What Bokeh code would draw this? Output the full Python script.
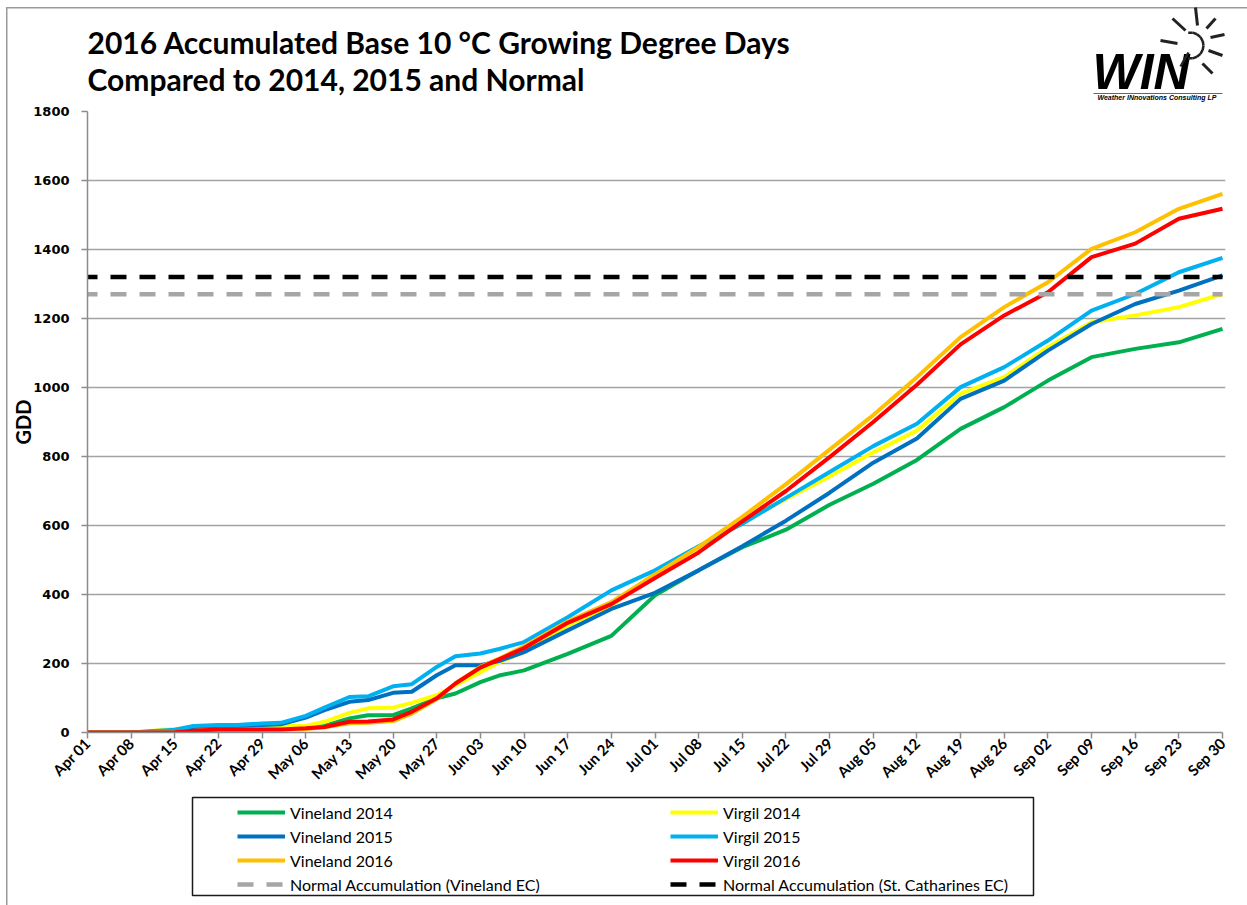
import math
from bokeh.plotting import figure
from bokeh.layouts import column
from bokeh.models import Range1d, Legend, LegendItem, Label, Arrow
from bokeh.embed import file_html
from bokeh.resources import INLINE

# ---- data (days since Apr 01, 2016) ----
days = [0, 7, 14, 17, 21, 24, 28, 31, 35, 38, 42, 45, 49, 52, 56, 59, 63, 66, 70,
        77, 84, 91, 98, 105, 112, 119, 126, 133, 140, 147, 154, 161, 168, 175, 182]

vineland_2014 = [0, 0, 4, 7, 9, 9, 9, 12, 14, 19, 41, 50, 50, 70, 99, 113, 146, 165, 180,
                 228, 280, 398, 470, 537, 588, 660, 721, 790, 880, 943, 1020, 1088, 1112, 1131, 1170]
virgil_2014 = [0, 0, 10, 12, 12, 12, 14, 19, 19, 31, 57, 70, 72, 86, 108, 137, 175, 204, 233,
               310, 368, 462, 530, 610, 677, 742, 812, 875, 982, 1030, 1117, 1189, 1209, 1233, 1271]
vineland_2015 = [0, 0, 5, 16, 19, 19, 22, 24, 43, 65, 89, 94, 115, 118, 166, 195, 195, 207, 233,
                 296, 358, 405, 470, 540, 614, 695, 782, 852, 967, 1020, 1107, 1184, 1242, 1281, 1325]
virgil_2015 = [0, 0, 8, 19, 22, 22, 26, 28, 48, 72, 103, 105, 134, 140, 190, 221, 229, 242, 262,
               334, 412, 470, 540, 605, 680, 755, 830, 895, 1001, 1059, 1136, 1223, 1271, 1334, 1376]
vineland_2016 = [0, 0, 1, 4, 8, 8, 8, 8, 10, 15, 27, 28, 33, 55, 97, 142, 190, 214, 250,
                 322, 378, 458, 538, 625, 720, 820, 920, 1030, 1146, 1233, 1305, 1402, 1450, 1518, 1561]
virgil_2016 = [0, 0, 1, 5, 9, 9, 9, 9, 12, 16, 31, 32, 38, 60, 99, 142, 188, 212, 245,
               318, 372, 448, 522, 612, 700, 798, 900, 1008, 1125, 1209, 1276, 1378, 1417, 1489, 1518]

normal_vineland_ec = 1270
normal_st_catharines_ec = 1320

tick_days = list(range(0, 183, 7))
tick_labels = ["Apr 01", "Apr 08", "Apr 15", "Apr 22", "Apr 29", "May 06", "May 13",
               "May 20", "May 27", "Jun 03", "Jun 10", "Jun 17", "Jun 24", "Jul 01",
               "Jul 08", "Jul 15", "Jul 22", "Jul 29", "Aug 05", "Aug 12", "Aug 19",
               "Aug 26", "Sep 02", "Sep 09", "Sep 16", "Sep 23", "Sep 30"]
y_ticks = list(range(0, 1801, 200))

# ---- layout geometry (pixels) ----
W = 1247
FRAME_L, FRAME_R = 87, 1225
TOP_H = 102          # title band height
FRAME_T = 111        # y of value 1800
FRAME_B = 732        # y of value 0
CHART_BOTTOM = 795
PX_PER_DAY = (1222 - FRAME_L) / 182.0
x_end = (FRAME_R - FRAME_L) / PX_PER_DAY


def blank_fig(height, y0, y1):
    f = figure(width=W, height=height, x_range=Range1d(FRAME_L, FRAME_R),
               y_range=Range1d(y0, y1), output_backend="svg", toolbar_location=None,
               min_border_left=FRAME_L, min_border_right=W - FRAME_R,
               min_border_top=0, min_border_bottom=0)
    f.axis.visible = False
    f.grid.visible = False
    f.outline_line_color = None
    f.background_fill_alpha = 0
    f.border_fill_alpha = 0
    return f

# ---- title band ----
t = blank_fig(TOP_H, 0, TOP_H)

def text_label(txt, x, base, size, font="Lato", style="bold"):
    # empirical correction so that the text baseline lands on `base`
    t.add_layout(Label(x=x - FRAME_L, y=TOP_H - (base - 0.37 * size),
                       x_units="screen", y_units="screen",
                       text=txt, text_font=font, text_font_style=style,
                       text_font_size=f"{size}px", text_color="black",
                       text_baseline="alphabetic"))

text_label("2016 Accumulated Base 10 °C Growing Degree Days", 87, 53, 30)
text_label("Compared to 2014, 2015 and Normal", 87, 90, 30)
text_label("WIN", 1092, 90, 50, font="Liberation Sans", style="bold italic")
text_label("Weather INnovations Consulting LP", 1097, 100, 7,
           font="Liberation Sans", style="bold italic")

def seg(x0, y0, x1, y1, w=1.0, c="#555555"):
    t.add_layout(Arrow(end=None, x_start=x0 - FRAME_L, y_start=TOP_H - y0,
                       x_end=x1 - FRAME_L, y_end=TOP_H - y1,
                       start_units="screen", end_units="screen",
                       line_color=c, line_width=w))

seg(1093, 93, 1222, 93, 1.0, "#666666")
rays = [(1172, 18, 1185, 30), (1195, 7, 1197, 25), (1215, 18, 1206, 28),
        (1210, 37, 1224, 34), (1208, 50, 1222, 55), (1202, 63, 1212, 73),
        (1160, 40, 1177, 43)]
for x0, y0, x1, y1 in rays:
    seg(x0, y0, x1, y1, 3, "#222222")
cx, cy, rad = 1190, 45, 13
pts = [(cx + rad * math.cos(math.radians(a)), cy + rad * math.sin(math.radians(a)))
       for a in range(-100, 101, 20)]
for (x0, y0), (x1, y1) in zip(pts[:-1], pts[1:]):
    seg(x0, y0, x1, y1, 2.5, "#222222")
seg(1188, 52, 1180, 66, 2.5, "#222222")

# ---- main chart ----
p = figure(width=W, height=CHART_BOTTOM - TOP_H, x_range=Range1d(0, x_end),
           y_range=Range1d(0, 1800), output_backend="svg", toolbar_location=None,
           min_border_left=FRAME_L, min_border_right=W - FRAME_R,
           min_border_top=FRAME_T - TOP_H, min_border_bottom=CHART_BOTTOM - FRAME_B)
p.outline_line_color = None
p.background_fill_alpha = 0
p.border_fill_alpha = 0
p.xgrid.grid_line_color = None
p.ygrid.grid_line_color = "#a3a3a3"
p.ygrid.grid_line_width = 1.5

AX = "#8c8c8c"
p.yaxis.ticker = y_ticks
p.yaxis.axis_line_color = AX
p.yaxis.axis_line_width = 1.5
p.yaxis.major_tick_line_color = AX
p.yaxis.major_tick_line_width = 1.5
p.yaxis.major_tick_out = 6
p.yaxis.major_tick_in = 0
p.yaxis.minor_tick_line_color = None
p.yaxis.major_label_text_font = "DejaVu Sans"
p.yaxis.major_label_text_font_style = "bold"
p.yaxis.major_label_text_font_size = "13px"
p.yaxis.major_label_text_color = "black"
p.yaxis.major_label_standoff = 12
p.yaxis.axis_label = "GDD"
p.yaxis.axis_label_text_font = "Lato"
p.yaxis.axis_label_text_font_style = "bold"
p.yaxis.axis_label_text_font_size = "20px"
p.yaxis.axis_label_text_color = "black"
p.yaxis.axis_label_standoff = -5

p.xaxis.ticker = tick_days
p.xaxis.bounds = (0, 182)
p.xaxis.major_label_overrides = {d: lab for d, lab in zip(tick_days, tick_labels)}
p.xaxis.major_label_orientation = math.pi / 4
p.xaxis.axis_line_color = AX
p.xaxis.axis_line_width = 1.5
p.xaxis.major_tick_line_color = AX
p.xaxis.major_tick_line_width = 1.5
p.xaxis.major_tick_out = 6
p.xaxis.major_tick_in = 0
p.xaxis.minor_tick_line_color = None
p.xaxis.major_label_text_font = "Lato"
p.xaxis.major_label_text_font_style = "bold"
p.xaxis.major_label_text_font_size = "15px"
p.xaxis.major_label_text_color = "black"
p.xaxis.major_label_standoff = 2

series = [
    ("Vineland 2014", vineland_2014, "#00B050"),
    ("Virgil 2014", virgil_2014, "#FFFF00"),
    ("Vineland 2015", vineland_2015, "#0070C0"),
    ("Virgil 2015", virgil_2015, "#00B0F0"),
    ("Vineland 2016", vineland_2016, "#FFC000"),
    ("Virgil 2016", virgil_2016, "#FF0000"),
]
for name, vals, col in series:
    p.line(days, vals, line_color=col, line_width=4, line_join="round")

DASH = dict(line_width=4.5, line_dash="16 13", line_dash_offset=6)
normals = [("Normal Accumulation (Vineland EC)", normal_vineland_ec, "#A6A6A6"),
           ("Normal Accumulation (St. Catharines EC)", normal_st_catharines_ec, "#000000")]
for name, v, col in normals:
    p.line([days[0], days[-1]], [v, v], line_color=col, **DASH)

# ---- legend band ----
LH = 905 - CHART_BOTTOM
q = blank_fig(LH, 0, LH)

def ly(y):
    return 905 - y

q.quad(left=[192], right=[1033], top=[ly(797)], bottom=[ly(895)],
       fill_alpha=0, line_color="#1a1a1a", line_width=1.5)

dummy = {}
for name, vals, col in series:
    dummy[name] = q.line([-50, -40], [-50, -50], line_color=col, line_width=4)
for name, v, col in normals:
    dummy[name] = q.line([-50, -40], [-50, -50], line_color=col, line_width=4.5,
                         line_dash="16 13")

def make_legend(names, x):
    return Legend(items=[LegendItem(label=n, renderers=[dummy[n]]) for n in names],
                  location=(x - FRAME_L, ly(894)), orientation="vertical",
                  glyph_width=48, glyph_height=20, label_standoff=5, spacing=4,
                  padding=0, margin=0, border_line_color=None,
                  background_fill_alpha=0, label_text_font="Lato",
                  label_text_font_size="16px", label_text_color="black")

q.add_layout(make_legend(["Vineland 2014", "Vineland 2015", "Vineland 2016",
                          "Normal Accumulation (Vineland EC)"], 237))
q.add_layout(make_legend(["Virgil 2014", "Virgil 2015", "Virgil 2016",
                          "Normal Accumulation (St. Catharines EC)"], 670))

layout = column(t, p, q, spacing=0)
layout.styles = {
    "background-image": "linear-gradient(#9a9a9a, #9a9a9a), linear-gradient(#9a9a9a, #9a9a9a)",
    "background-size": "1.5px 100%, 100% 1.5px",
    "background-position": "6px 7px, 6px 7px",
    "background-repeat": "no-repeat",
}

open("out.html", "w").write(file_html(layout, INLINE))
